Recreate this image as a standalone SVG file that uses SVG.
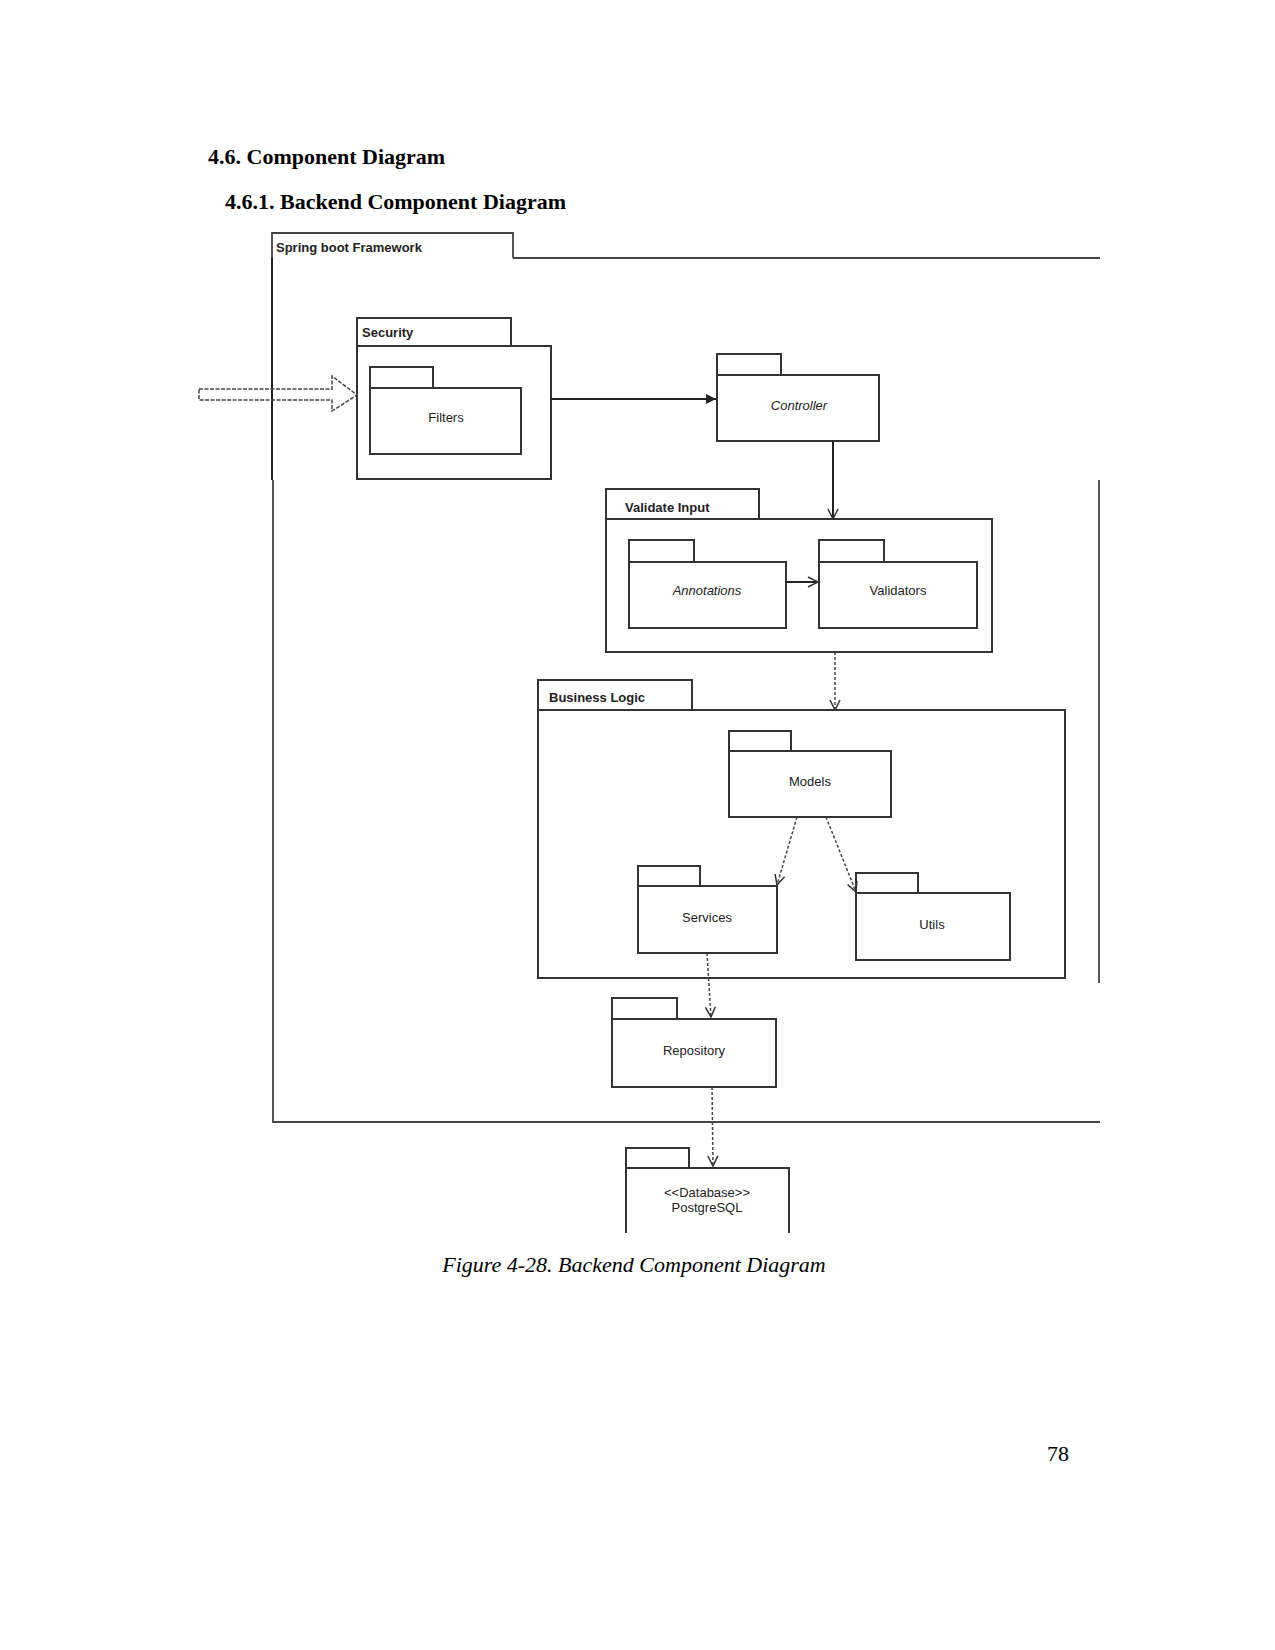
<svg xmlns="http://www.w3.org/2000/svg" width="1275" height="1650" viewBox="0 0 1275 1650">
<style>
.h{font-family:"Liberation Serif","Times New Roman",serif;font-weight:bold;font-size:22px;fill:#000}
.cap{font-family:"Liberation Serif","Times New Roman",serif;font-style:italic;font-size:22px;fill:#000}
.pn{font-family:"Liberation Serif","Times New Roman",serif;font-size:22px;fill:#000}
.lb{font-family:"Liberation Sans",Arial,sans-serif;font-size:13px;fill:#222}
.c{text-anchor:middle}
.pk{fill:none;stroke:#333;stroke-width:2}
.fr{fill:none;stroke:#444;stroke-width:1.8}
.ln{fill:none;stroke:#222;stroke-width:2}
.dl{fill:none;stroke:#444;stroke-width:1.5;stroke-dasharray:3 2}
</style>
<defs>
<marker id="open" viewBox="0 0 12 12" refX="11" refY="6" markerWidth="12" markerHeight="12" markerUnits="userSpaceOnUse" orient="auto">
<path d="M1,1 L11,6 L1,11" fill="none" stroke="#333" stroke-width="1.5"/>
</marker>
<marker id="solid" viewBox="0 0 12 12" refX="11" refY="6" markerWidth="12" markerHeight="12" markerUnits="userSpaceOnUse" orient="auto">
<path d="M1,1 L11,6 L1,11 Z" fill="#222"/>
</marker>
</defs>

<text class="h" x="208" y="164">4.6. Component Diagram</text>
<text class="h" x="225" y="209">4.6.1. Backend Component Diagram</text>

<g id="frame-springboot">
<path class="fr" d="M272,258 V233 H513 V258"/>
<path class="fr" d="M513,258 H1100"/>
<path class="ln" d="M272,258 V480"/>
<path class="fr" d="M273,480 V1122 H1100"/>
<path class="fr" d="M1099,480 V983"/>
<text class="lb" x="276" y="252" font-size="15" font-weight="bold">Spring boot Framework</text>
</g>

<g id="pkg-security">
<path class="pk" d="M357,346 V318 H511 V346"/>
<rect class="pk" x="357" y="346" width="194" height="133"/>
<text class="lb" x="362" y="337" font-weight="bold">Security</text>
</g>
<g id="pkg-filters">
<path class="pk" d="M370,388 V367 H433 V388"/>
<rect class="pk" x="370" y="388" width="151" height="66"/>
<text class="lb c" x="446" y="422">Filters</text>
</g>

<g id="pkg-controller">
<path class="pk" d="M717,375 V354 H781 V375"/>
<rect class="pk" x="717" y="375" width="162" height="66"/>
<text class="lb c" x="799" y="410" font-style="italic">Controller</text>
</g>

<g id="pkg-validate">
<path class="pk" d="M606,519 V489 H759 V519"/>
<rect class="pk" x="606" y="519" width="386" height="133"/>
<text class="lb" x="625" y="512" font-weight="bold">Validate Input</text>
</g>
<g id="pkg-annotations">
<path class="pk" d="M629,562 V540 H694 V562"/>
<rect class="pk" x="629" y="562" width="157" height="66"/>
<text class="lb c" x="707" y="595" font-style="italic">Annotations</text>
</g>
<g id="pkg-validators">
<path class="pk" d="M819,562 V540 H884 V562"/>
<rect class="pk" x="819" y="562" width="158" height="66"/>
<text class="lb c" x="898" y="595">Validators</text>
</g>

<g id="pkg-business">
<path class="pk" d="M538,710 V680 H692 V710"/>
<rect class="pk" x="538" y="710" width="527" height="268"/>
<text class="lb" x="549" y="702" font-weight="bold">Business Logic</text>
</g>
<g id="pkg-models">
<path class="pk" d="M729,751 V731 H791 V751"/>
<rect class="pk" x="729" y="751" width="162" height="66"/>
<text class="lb c" x="810" y="786">Models</text>
</g>
<g id="pkg-services">
<path class="pk" d="M638,886 V866 H700 V886"/>
<rect class="pk" x="638" y="886" width="139" height="67"/>
<text class="lb c" x="707" y="922">Services</text>
</g>
<g id="pkg-utils">
<path class="pk" d="M856,893 V873 H918 V893"/>
<rect class="pk" x="856" y="893" width="154" height="67"/>
<text class="lb c" x="932" y="929">Utils</text>
</g>

<g id="pkg-repository">
<path class="pk" d="M612,1019 V998 H677 V1019"/>
<rect class="pk" x="612" y="1019" width="164" height="68"/>
<text class="lb c" x="694" y="1055">Repository</text>
</g>

<g id="pkg-database">
<path class="pk" d="M626,1168 V1148 H689 V1168"/>
<path class="pk" d="M626,1233 V1168 H789 V1233"/>
<text class="lb c" x="707" y="1197">&lt;&lt;Database&gt;&gt;</text>
<text class="lb c" x="707" y="1212">PostgreSQL</text>
</g>

<g id="connectors">
<path d="M199,389 H332 V376 L357,395 L332,411 V400 H199 Z" fill="none" stroke="#444" stroke-width="1.5" stroke-dasharray="4 1.5"/>
<line class="ln" x1="551" y1="399" x2="716" y2="399" marker-end="url(#solid)"/>
<line class="ln" x1="833" y1="441" x2="833" y2="519" marker-end="url(#open)"/>
<line class="ln" x1="786" y1="582" x2="818" y2="582" marker-end="url(#open)" stroke-width="1.5"/>
<line class="dl" x1="835" y1="652" x2="835" y2="710" marker-end="url(#open)"/>
<line class="dl" x1="797" y1="817" x2="777" y2="885" marker-end="url(#open)"/>
<line class="dl" x1="826" y1="817" x2="856" y2="892" marker-end="url(#open)"/>
<line class="dl" x1="707" y1="953" x2="711" y2="1017" marker-end="url(#open)"/>
<line class="dl" x1="712" y1="1087" x2="713" y2="1166" marker-end="url(#open)"/>
</g>

<text class="cap c" x="634" y="1272">Figure 4-28. Backend Component Diagram</text>
<text class="pn" x="1047" y="1461">78</text>
</svg>
